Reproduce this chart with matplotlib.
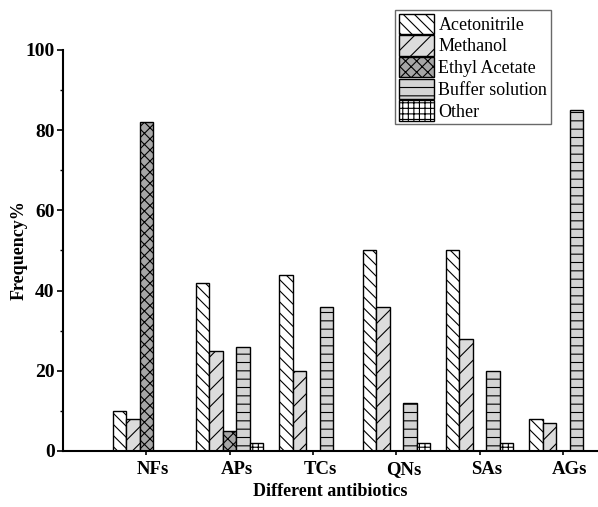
import numpy as np
import matplotlib.pyplot as plt
import matplotlib.transforms as mtransforms

plt.rcParams['font.family'] = ['Liberation Serif', 'DejaVu Serif']
plt.rcParams['hatch.linewidth'] = 0.8

antibiotics = ["NFs", "APs", "TCs", "QNs", "SAs", "AGs"]
solvents = ["Acetonitrile", "Methanol", "Ethyl Acetate", "Buffer solution", "Other"]

acetonitrile = [10, 42, 44, 50, 50, 8]
methanol = [8, 25, 20, 36, 28, 7]
ethyl_acetate = [82, 5, 0, 0, 0, 0]
buffer_solution = [0, 26, 36, 12, 20, 85]
other = [0, 2, 0, 2, 2, 0]

series = [acetonitrile, methanol, ethyl_acetate, buffer_solution, other]
hatches = ['\\\\\\', '//', 'xxx', '--', '+++']
fills = ['white', '#dcdcdc', '#a6a6a6', '#d4d4d4', 'white']

fig = plt.figure(figsize=(5.98, 5.07), dpi=100)
ax = fig.add_axes([0.1054, 0.1105, 0.8946, 0.791])

x = np.arange(len(antibiotics))
width = 0.162
for i, (vals, name) in enumerate(zip(series, solvents)):
    ax.bar(x + (i - 2) * width, vals, width, label=name, facecolor=fills[i],
           edgecolor='black', hatch=hatches[i], linewidth=1.0)

ax.set_xlim(-1.0, 5.42)
ax.set_ylim(0, 100)
ax.set_xticks(x)
ax.set_xticklabels(antibiotics, fontsize=13.5, fontweight='bold')
ax.set_yticks(np.arange(0, 101, 20))
ax.set_yticks(np.arange(10, 100, 20), minor=True)
ax.tick_params(axis='y', which='major', labelsize=14, length=4, width=1.2, direction='out', pad=2)
ax.tick_params(axis='y', which='minor', length=2.5, width=1.0)
ax.tick_params(axis='x', length=3, width=1.2, pad=4)
for lbl in ax.get_yticklabels():
    lbl.set_fontweight('bold')

# shift category labels a little to the right of their ticks
shift = mtransforms.ScaledTranslation(7 / 100, 0, fig.dpi_scale_trans)
for lbl in ax.get_xticklabels():
    lbl.set_transform(lbl.get_transform() + shift)

for side in ['top', 'right']:
    ax.spines[side].set_visible(False)
ax.spines['left'].set_linewidth(1.5)
ax.spines['bottom'].set_linewidth(1.5)

ax.set_ylabel("Frequency%", fontsize=13, fontweight='bold')
ax.yaxis.set_label_coords(-0.066, 0.5)
ax.set_xlabel("Different antibiotics", fontsize=13, fontweight='bold', labelpad=4)

leg = ax.legend(loc='upper left', bbox_to_anchor=(395 / 598, 1 - 10 / 507),
                bbox_transform=fig.transFigure, fontsize=13, frameon=True,
                fancybox=False, edgecolor='#444444', handlelength=1.95,
                handleheight=1.35, handletextpad=0.25, labelspacing=0.08,
                borderpad=0.2, borderaxespad=0)
leg.get_frame().set_linewidth(1.0)

fig.savefig("out.png", dpi=100)
